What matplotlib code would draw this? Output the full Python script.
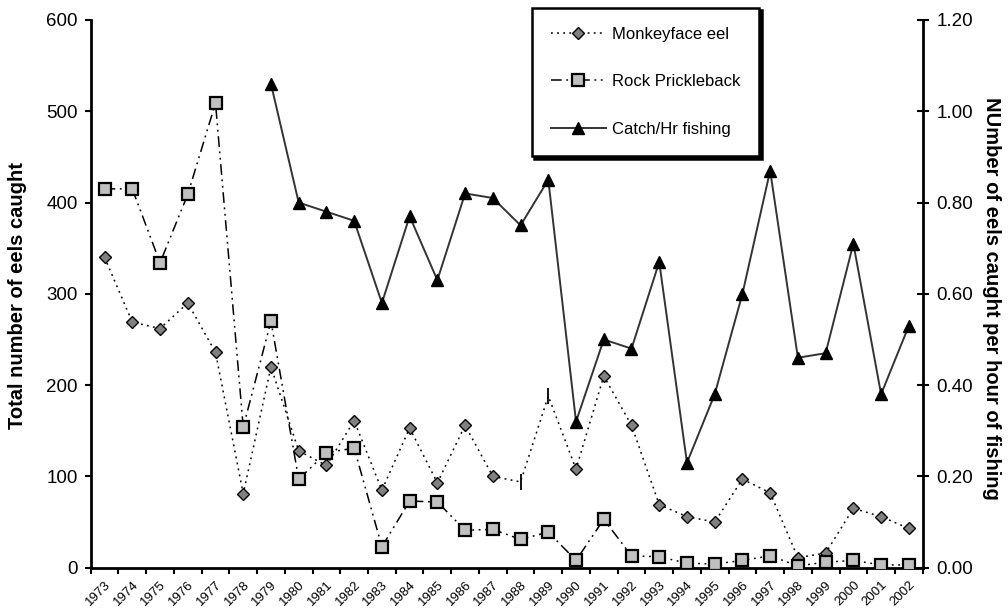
import matplotlib
matplotlib.use('Agg')
import matplotlib.pyplot as plt
import numpy as np
from matplotlib.lines import Line2D

plt.rcParams['font.family'] = ['Liberation Sans', 'DejaVu Sans']

years = [str(y) for y in range(1973, 2003)]
monkeyface = [340, 269, 262, 290, 236, 81, 220, 128, 112, 161,
              85, 153, 93, 156, 100, 94, 188, 108, 210, 156,
              69, 56, 50, 97, 82, 11, 16, 65, 56, 43]
prickleback = [415, 415, 334, 409, 509, 154, 270, 97, 126, 131,
               23, 73, 72, 41, 42, 31, 39, 8, 53, 13,
               12, 5, 4, 8, 13, 2, 6, 8, 3, 3]
catch_hr = [np.nan] * 6 + [1.06, 0.80, 0.78, 0.76, 0.58, 0.77, 0.63, 0.82, 0.81, 0.75,
                           0.85, 0.32, 0.50, 0.48, 0.67, 0.23, 0.38, 0.60, 0.87, 0.46,
                           0.47, 0.71, 0.38, 0.53]
bar_marker_years = ['1988', '1989']  # points drawn with a bar marker in the original

W, H = 1008, 613
fig = plt.figure(figsize=(W / 100, H / 100), dpi=100)
ax = fig.add_axes([90.7 / W, 1 - 567.7 / H, (922.7 - 90.7) / W, (567.7 - 20) / H])
ax2 = ax.twinx()

x = np.arange(len(years)) + 0.5
bar_idx = [years.index(y) for y in bar_marker_years]
keep = [i for i in range(len(years)) if i not in bar_idx]

mf_style = (0, (1.2, 2.8))
rp_style = (0, (7, 3, 1.2, 3, 1.2, 3))

ax.plot(x, monkeyface, linestyle=mf_style, color='black', lw=1.1,
        marker='D', markersize=6, markerfacecolor='#808080', markeredgecolor='black',
        markeredgewidth=1.0, markevery=keep, zorder=3)
ax.scatter(x[bar_idx], np.array(monkeyface)[bar_idx], marker='|', s=120,
           color='black', linewidths=1.3, zorder=3)
ax.plot(x, prickleback, linestyle=rp_style, color='black', lw=1.1,
        marker='s', markersize=8, markerfacecolor='#C0C0C0', markeredgecolor='black',
        markeredgewidth=1.6, zorder=4)
ax2.plot(x, catch_hr, linestyle='-', color='#333333', lw=1.4,
         marker='^', markersize=9, markerfacecolor='black', markeredgecolor='black', zorder=5)

ax.set_xlim(0, len(years))
ax.set_ylim(0, 600)
ax2.set_ylim(0, 1.2)

ax.set_yticks(np.arange(0, 601, 100))
ax2.set_yticks(np.arange(0, 1.21, 0.2))
ax2.set_yticklabels(['%.2f' % v for v in np.arange(0, 1.21, 0.2)])

ax.set_xticks(np.arange(0, len(years) + 1))
ax.set_xticklabels([])
ax.set_xticks(x, minor=True)
ax.set_xticklabels(years, minor=True, rotation=45, ha='right', va='top',
                   rotation_mode='anchor', fontsize=9.5)
ax.tick_params(axis='x', which='minor', length=0, pad=8)
ax.tick_params(axis='x', which='major', direction='out', length=4, width=1.5)
ax.tick_params(axis='y', direction='out', length=4.5, width=1.5, labelsize=13.5, pad=5)
ax2.tick_params(axis='y', direction='inout', length=8, width=1.5, labelsize=13.5, pad=6)

for a in (ax, ax2):
    a.spines['top'].set_visible(False)
    for s in ('left', 'right', 'bottom'):
        a.spines[s].set_linewidth(2)
ax.spines['right'].set_visible(False)
ax2.spines['left'].set_visible(False)
ax2.spines['bottom'].set_visible(False)

fig.text(18 / W, 1 - 296 / H, 'Total number of eels caught', rotation=90,
         ha='center', va='center', fontsize=14.5, fontweight='bold')
fig.text(991 / W, 1 - 298 / H, 'NUmber of eels caught per hour of fishing', rotation=-90,
         ha='center', va='center', fontsize=14.5, fontweight='bold')

handles = [
    Line2D([], [], linestyle=mf_style, color='black', lw=1.1, marker='D', markersize=6,
           markerfacecolor='#808080', markeredgecolor='black'),
    Line2D([], [], linestyle=rp_style, color='black', lw=1.1, marker='s', markersize=8,
           markerfacecolor='#C0C0C0', markeredgecolor='black', markeredgewidth=1.6),
    Line2D([], [], linestyle='-', color='#333333', lw=1.4, marker='^', markersize=9,
           markerfacecolor='black', markeredgecolor='black'),
]
labels = ['Monkeyface eel', 'Rock Prickleback', 'Catch/Hr fishing']
leg = ax2.legend(handles, labels, loc='upper left',
                 bbox_to_anchor=(531.7 / W, 1 - 7.5 / H), bbox_transform=fig.transFigure,
                 frameon=True, fancybox=False, shadow={'color': 'black', 'alpha': 1},
                 fontsize=12, labelspacing=1.95, handlelength=3.3, handletextpad=0.35,
                 borderpad=1.15, borderaxespad=0)
leg.get_frame().set_edgecolor('black')
leg.get_frame().set_linewidth(1.8)
leg.get_frame().set_alpha(1)

fig.savefig('out.png', dpi=100)
